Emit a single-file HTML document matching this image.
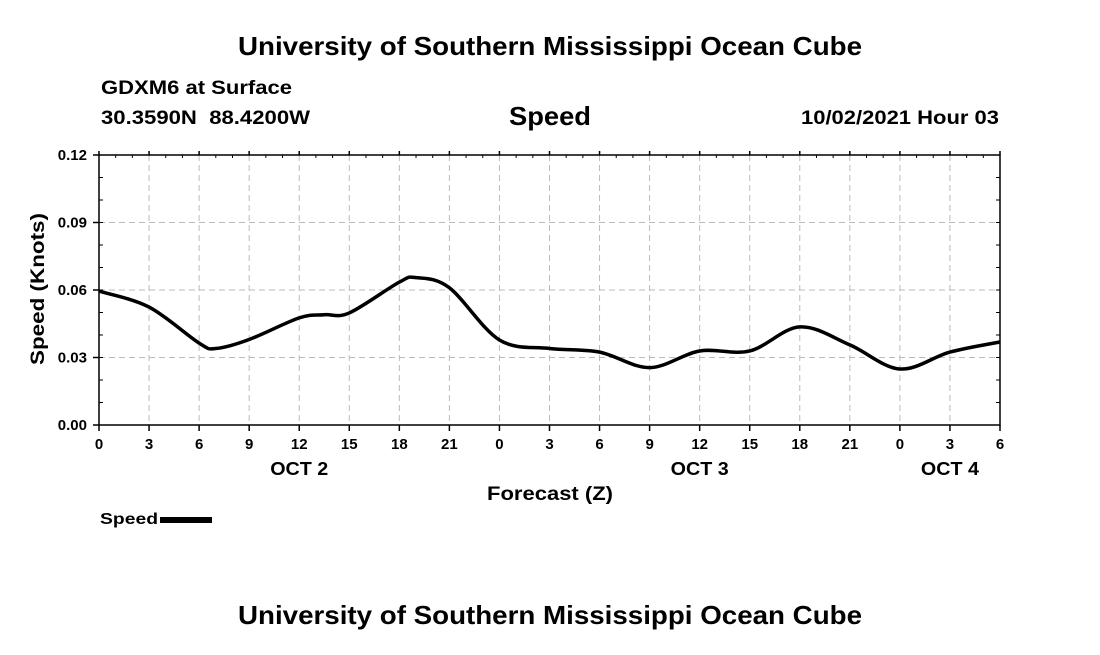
<!DOCTYPE html>
<html><head><meta charset="utf-8"><style>
body{margin:0;background:#fff;width:1100px;height:650px;overflow:hidden}
svg text{font-family:"Liberation Sans",sans-serif;font-weight:bold;fill:#000}
</style></head><body>
<svg id="chart" width="1100" height="650" xmlns="http://www.w3.org/2000/svg">
<text x="550" y="55" font-size="26" text-anchor="middle" textLength="624" lengthAdjust="spacingAndGlyphs">University of Southern Mississippi Ocean Cube</text>
<text x="101" y="94" font-size="19" textLength="191" lengthAdjust="spacingAndGlyphs">GDXM6 at Surface</text>
<text x="101" y="124" font-size="19" textLength="209" lengthAdjust="spacingAndGlyphs" xml:space="preserve">30.3590N  88.4200W</text>
<text x="509" y="125" font-size="26" textLength="82" lengthAdjust="spacingAndGlyphs">Speed</text>
<text x="801" y="124" font-size="19" textLength="198" lengthAdjust="spacingAndGlyphs">10/02/2021 Hour 03</text>
<g id="grid"></g>
<g id="axes"></g>
<path id="line" fill="none" stroke="#000" stroke-width="3.5"/>
<text transform="translate(44,289) rotate(-90)" font-size="19" text-anchor="middle" textLength="152" lengthAdjust="spacingAndGlyphs">Speed (Knots)</text>
<text x="487" y="500" font-size="19" textLength="126" lengthAdjust="spacingAndGlyphs">Forecast (Z)</text>
<text x="100" y="524" font-size="16" textLength="58" lengthAdjust="spacingAndGlyphs">Speed</text>
<rect x="160" y="517" width="52" height="6" fill="#000"/>
<text x="550" y="624" font-size="26" text-anchor="middle" textLength="624" lengthAdjust="spacingAndGlyphs">University of Southern Mississippi Ocean Cube</text>
</svg>
<script>
const hours=[0,3,6,7,9,12,13.5,15,18,19,21,24,27,30,33,36,39,42,45,48,51,54];
const speeds=[0.0595,0.0524,0.0364,0.034,0.038,0.0476,0.049,0.0498,0.0635,0.0655,0.061,0.0378,0.034,0.0324,0.0255,0.0329,0.0329,0.0436,0.0356,0.0249,0.0324,0.0369];
const xTickLabels=["0","3","6","9","12","15","18","21","0","3","6","9","12","15","18","21","0","3","6"];
const yTicks=[0,0.03,0.06,0.09,0.12];
const dayLabels=["OCT 2","OCT 3","OCT 4"];
const dayHours=[12,36,51];
const X0=99,X1=1000,Y0=425,Y1=155,HMAX=54,VMAX=0.12;
const xs=h=>X0+(X1-X0)*h/HMAX, ys=v=>Y0-(Y0-Y1)*v/VMAX;
const NS="http://www.w3.org/2000/svg";
function mk(tag,attrs,parent){const e=document.createElementNS(NS,tag);for(const k in attrs)e.setAttribute(k,attrs[k]);parent.appendChild(e);return e;}
const grid=document.getElementById('grid'),axes=document.getElementById('axes');
xTickLabels.forEach((l,i)=>{const x=xs(i*3);
 if(i>0&&i<xTickLabels.length-1){const g=mk('line',{x1:x,x2:x,y1:Y1,y2:Y0,stroke:'#bbb','stroke-dasharray':'6,4'},grid);
 }
 mk('line',{x1:x,x2:x,y1:Y0,y2:Y0+6,stroke:'#000','stroke-width':1.5},axes);
 mk('line',{x1:x,x2:x,y1:Y1,y2:Y1-4,stroke:'#000','stroke-width':1.5},axes);
 const t=mk('text',{x:x,y:Y0+24,'font-size':15,'text-anchor':'middle'},axes);t.textContent=l;
 });
for(let h=1;h<HMAX;h++){if(h%3)mk('line',{x1:xs(h),x2:xs(h),y1:Y1,y2:Y1+3,stroke:'#000'},axes);}
yTicks.forEach(v=>{const y=ys(v);
 if(v>0&&v<VMAX){const g=mk('line',{x1:X0,x2:X1,y1:y,y2:y,stroke:'#bbb','stroke-dasharray':'6,4'},grid);
 }
 mk('line',{x1:X0-6,x2:X0,y1:y,y2:y,stroke:'#000','stroke-width':1.5},axes);
 const t=mk('text',{x:X0-12,y:y+5,'font-size':15,'text-anchor':'end'},axes);t.textContent=v.toFixed(2);
 });
for(let v=0.01;v<VMAX;v+=0.01){mk('line',{x1:X0,x2:X0+4,y1:ys(v),y2:ys(v),stroke:'#000'},axes);mk('line',{x1:X1,x2:X1-4,y1:ys(v),y2:ys(v),stroke:'#000'},axes);}
mk('rect',{x:X0,y:Y1,width:X1-X0,height:Y0-Y1,fill:'none',stroke:'#000','stroke-width':1.5},axes);
dayLabels.forEach((l,i)=>{const t=mk('text',{x:xs(dayHours[i]),y:Y0+50,'font-size':18,'text-anchor':'middle',textLength:58,lengthAdjust:'spacingAndGlyphs'},axes);t.textContent=l;
 });
const P=hours.map((h,i)=>[xs(h),ys(speeds[i])]);
let d=`M${P[0][0]},${P[0][1]}`;
for(let i=0;i<P.length-1;i++){const p0=P[i-1]||P[i],p1=P[i],p2=P[i+1],p3=P[i+2]||p2;
 const c1=[p1[0]+(p2[0]-p0[0])/6,p1[1]+(p2[1]-p0[1])/6],c2=[p2[0]-(p3[0]-p1[0])/6,p2[1]-(p3[1]-p1[1])/6];
 d+=` C${c1[0]},${c1[1]} ${c2[0]},${c2[1]} ${p2[0]},${p2[1]}`;}
document.getElementById('line').setAttribute('d',d);
</script>
</body></html>
